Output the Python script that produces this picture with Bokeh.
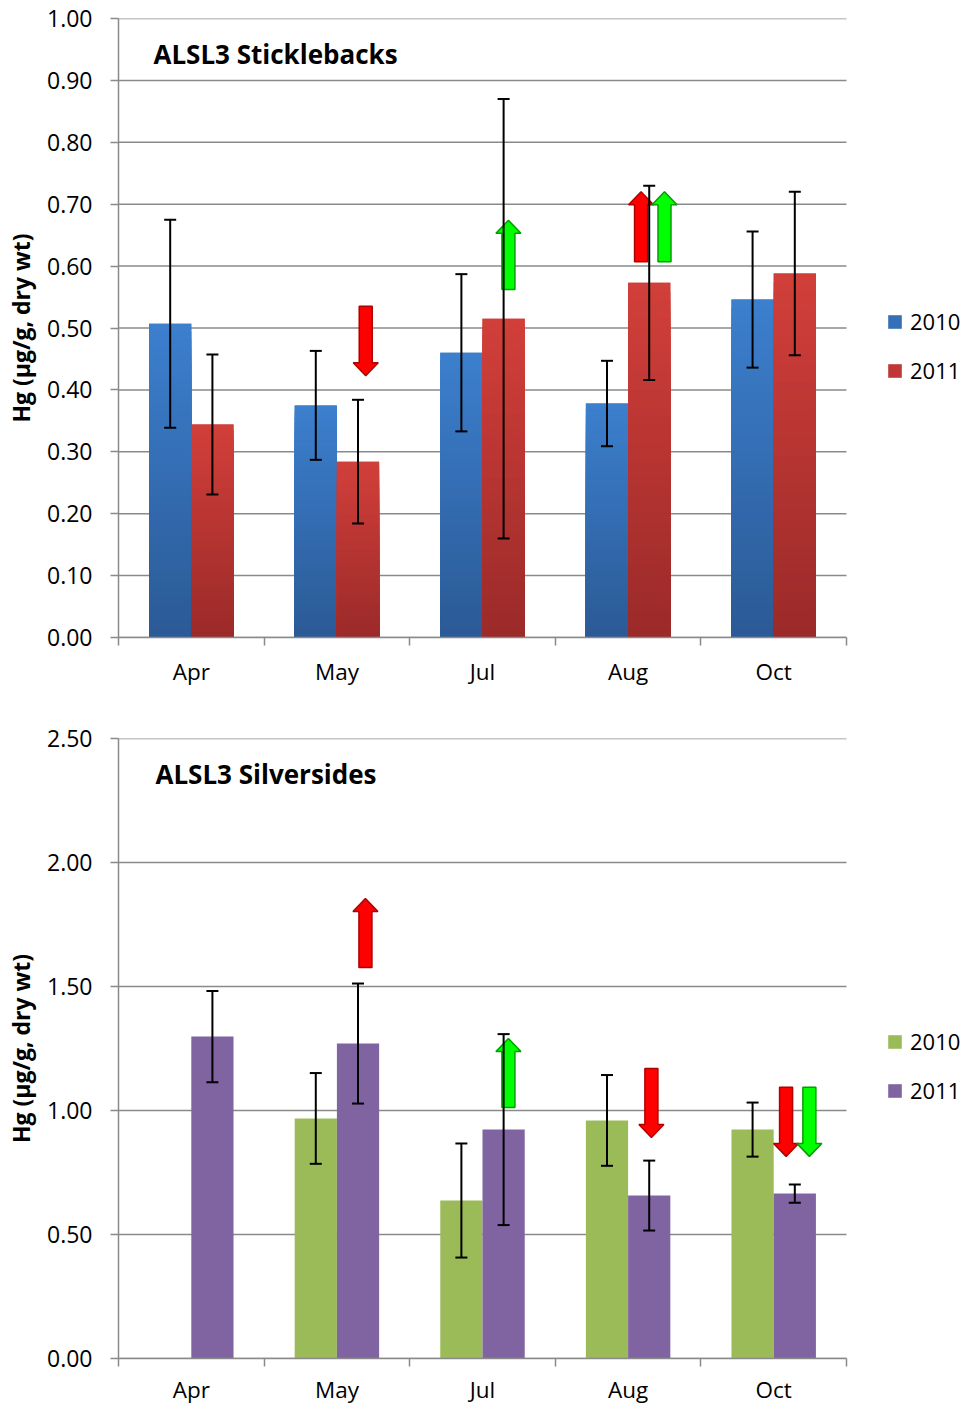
import math
from bokeh.plotting import figure
from bokeh.models import (Range1d, FixedTicker, NumeralTickFormatter, ColumnDataSource,
                          Whisker, TeeHead, Legend, LegendItem, Label)
from bokeh.layouts import column
from bokeh.embed import file_html
from bokeh.resources import INLINE

NaN = float("nan")

# ---------------- data ----------------
months = ["Apr", "May", "Jul", "Aug", "Oct"]
years = ["2010", "2011"]

stick_2010 = [0.507, 0.375, 0.460, 0.378, 0.546]
stick_2010_err = [0.168, 0.088, 0.127, 0.069, 0.110]
stick_2011 = [0.344, 0.284, 0.515, 0.573, 0.588]
stick_2011_err = [0.113, 0.100, 0.355, 0.157, 0.132]

silv_2010 = [NaN, 0.968, 0.637, 0.960, 0.923]
silv_2010_err = [NaN, 0.183, 0.230, 0.183, 0.109]
silv_2011 = [1.298, 1.270, 0.923, 0.657, 0.665]
silv_2011_err = [0.184, 0.242, 0.385, 0.141, 0.037]

stick_ticks = [0.0, 0.1, 0.2, 0.3, 0.4, 0.5, 0.6, 0.7, 0.8, 0.9, 1.0]
silv_ticks = [0.0, 0.5, 1.0, 1.5, 2.0, 2.5]

# change arrows (month, value from, value to, colour kind)
stick_arrow_month = ["May", "Jul", "Aug", "Aug"]
stick_arrow_from = [0.535, 0.562, 0.607, 0.607]
stick_arrow_to = [0.423, 0.674, 0.720, 0.720]
stick_arrow_kind = ["red", "green", "red", "green"]

silv_arrow_month = ["May", "Jul", "Aug", "Oct", "Oct"]
silv_arrow_from = [1.577, 1.012, 1.169, 1.094, 1.094]
silv_arrow_to = [1.855, 1.290, 0.891, 0.815, 0.815]
silv_arrow_kind = ["red", "green", "red", "red", "green"]

# ---------------- style / layout ----------------
FONT = "Open Sans"
GRID = "#8a8a8a"
W = 970
LEFT = 118
RIGHT = 4
CAT_PX = 145.6                      # pixels per month slot
NCAT = len(months)
X_END = (W - LEFT - RIGHT) / CAT_PX  # frame also holds the legend area
BAR_W = 0.29
stick_arrow_dx = [0.198, 0.178, 0.089, 0.25]
silv_arrow_dx = [0.196, 0.178, 0.16, 0.085, 0.245]
ARROW_FILL = {"red": "#FF0000", "green": "#00FF00"}
ARROW_LINE = {"red": "#B00000", "green": "#00A000"}


def hex2rgb(h):
    h = h.lstrip("#")
    return tuple(int(h[i:i + 2], 16) for i in (0, 2, 4))


def mix(c0, c1, f):
    a, b = hex2rgb(c0), hex2rgb(c1)
    return "#%02x%02x%02x" % tuple(int(round(a[i] + (b[i] - a[i]) * f)) for i in range(3))


def make_fig(height, top, bottom, ymax, ticks, ylabel, xlab_standoff):
    p = figure(width=W, height=height, output_backend="svg", toolbar_location=None,
               x_range=Range1d(0, X_END), y_range=Range1d(0, ymax),
               min_border_left=LEFT, min_border_right=RIGHT,
               min_border_top=top, min_border_bottom=bottom)
    p.outline_line_color = None
    p.background_fill_color = "white"
    p.border_fill_color = "white"
    p.xgrid.grid_line_color = None
    p.ygrid.grid_line_color = None
    # horizontal gridlines limited to the month slots
    p.segment(x0=[0] * len(ticks), x1=[NCAT] * len(ticks), y0=ticks, y1=ticks,
              line_color=GRID, line_width=1.5)

    ya = p.yaxis[0]
    ya.ticker = FixedTicker(ticks=ticks)
    ya.formatter = NumeralTickFormatter(format="0.00")
    ya.major_label_text_font = FONT
    ya.major_label_text_font_size = "23px"
    ya.major_label_text_color = "black"
    ya.major_tick_out = 8
    ya.major_tick_in = 0
    ya.major_tick_line_color = GRID
    ya.major_tick_line_width = 1.5
    ya.minor_tick_line_color = None
    ya.axis_line_color = GRID
    ya.axis_line_width = 1.5
    ya.major_label_standoff = 18
    ya.axis_label = ylabel
    ya.axis_label_text_font = FONT
    ya.axis_label_text_font_style = "bold"
    ya.axis_label_text_font_size = "23px"
    ya.axis_label_text_color = "black"
    ya.axis_label_standoff = 7

    xa = p.xaxis[0]
    centers = [i + 0.5 for i in range(NCAT)]
    xa.bounds = (0, NCAT)
    xa.ticker = FixedTicker(ticks=centers, minor_ticks=list(range(NCAT + 1)))
    xa.major_label_overrides = {c: m for c, m in zip(centers, months)}
    xa.major_tick_line_color = None
    xa.major_tick_out = 0
    xa.major_tick_in = 0
    xa.major_label_standoff = xlab_standoff
    xa.major_label_text_font = FONT
    xa.major_label_text_font_size = "22.5px"
    xa.major_label_text_color = "black"
    xa.minor_tick_out = 8
    xa.minor_tick_in = 0
    xa.minor_tick_line_color = GRID
    xa.minor_tick_line_width = 1.5
    xa.axis_line_color = GRID
    xa.axis_line_width = 1.5
    return p


def bars(p, vals, dx, c_mid, c_top=None, c_bot=None, n=40):
    xs = [i + 0.5 + dx for i in range(len(vals))]
    base = p.vbar(x=xs, top=vals, width=BAR_W, fill_color=c_mid, line_color=None)
    if c_top is not None:
        left, right, bot, topv, cols = [], [], [], [], []
        for x, v in zip(xs, vals):
            if v is None or math.isnan(v):
                continue
            for k in range(n, 0, -1):
                f = (k - 0.5) / n
                left.append(x - BAR_W / 2)
                right.append(x + BAR_W / 2)
                bot.append(0)
                topv.append(v * k / n)
                cols.append(mix(c_bot, c_top, f))
        p.quad(left=left, right=right, bottom=bot, top=topv, fill_color=cols, line_color=None)
    return base, xs


def errorbars(p, xs, vals, errs):
    ex, up, lo = [], [], []
    for x, v, e in zip(xs, vals, errs):
        if v is None or math.isnan(v):
            continue
        ex.append(x)
        up.append(v + e)
        lo.append(v - e)
    src = ColumnDataSource(dict(x=ex, upper=up, lower=lo))
    w = Whisker(source=src, base="x", upper="upper", lower="lower", dimension="height",
                line_color="black", line_width=2, level="overlay",
                upper_head=TeeHead(size=12, line_width=2, line_color="black"),
                lower_head=TeeHead(size=12, line_width=2, line_color="black"))
    p.add_layout(w)


def arrows(p, mlist, frm, to, kind, dxs, px_per_unit):
    half_shaft = 6.5 / CAT_PX
    half_head = 12.5 / CAT_PX
    head_len = 13.0 / px_per_unit
    xs_all, ys_all, fills, lines = [], [], [], []
    for m, y0, y1, kd, dx in zip(mlist, frm, to, kind, dxs):
        xc = months.index(m) + 0.5 + dx
        d = 1 if y1 > y0 else -1
        yb = y1 - d * head_len
        xs_all.append([xc - half_shaft, xc + half_shaft, xc + half_shaft, xc + half_head,
                       xc, xc - half_head, xc - half_shaft])
        ys_all.append([y0, y0, yb, yb, y1, yb, yb])
        fills.append(ARROW_FILL[kd])
        lines.append(ARROW_LINE[kd])
    p.patches(xs=xs_all, ys=ys_all, fill_color=fills, line_color=lines, line_width=1.5)


def legend(p, r1, r2, loc):
    lg = Legend(items=[LegendItem(label=years[0], renderers=[r1]),
                       LegendItem(label=years[1], renderers=[r2])],
                location=loc, orientation="vertical",
                glyph_width=17, glyph_height=17, label_height=22, spacing=19,
                label_standoff=7, padding=0, margin=0,
                border_line_color=None, background_fill_alpha=0,
                label_text_font=FONT, label_text_font_size="22px",
                label_text_color="black")
    p.add_layout(lg)


def chart(height, top, bottom, xlab_standoff, ymax, ticks, v10, e10, v11, e11, cols10, cols11,
          am, af, at, ak, adx, px_per_unit, legend_loc, title, title_x, title_y):
    p = make_fig(height, top, bottom, ymax, ticks, "Hg (µg/g, dry wt)", xlab_standoff)
    r1, x1 = bars(p, v10, -0.145, *cols10)
    r2, x2 = bars(p, v11, 0.145, *cols11)
    arrows(p, am, af, at, ak, adx, px_per_unit)
    errorbars(p, x1, v10, e10)
    errorbars(p, x2, v11, e11)
    legend(p, r1, r2, legend_loc)
    p.add_layout(Label(x=title_x, y=title_y, text=title, text_font=FONT,
                       text_font_style="bold", text_font_size="26px",
                       text_baseline="alphabetic", text_color="black"))
    return p


p1 = chart(700, 18, 63, 10, 1.0, stick_ticks,
           stick_2010, stick_2010_err, stick_2011, stick_2011_err,
           ("#356fb5", "#3c7fce", "#2b5a95"), ("#bf3835", "#d23f3a", "#9a2a29"),
           stick_arrow_month, stick_arrow_from, stick_arrow_to, stick_arrow_kind,
           stick_arrow_dx, 619.0, (768, 252), "ALSL3 Sticklebacks", 0.24, 0.942)

p2 = chart(707, 38, 49, 7, 2.5, silv_ticks,
           silv_2010, silv_2010_err, silv_2011, silv_2011_err,
           ("#9bbb59",), ("#8064a2",),
           silv_arrow_month, silv_arrow_from, silv_arrow_to, silv_arrow_kind,
           silv_arrow_dx, 248.0, (768, 253), "ALSL3 Silversides", 0.254, 2.355)

layout = column(p1, p2, spacing=0)
open("out.html", "w").write(file_html(layout, INLINE))
